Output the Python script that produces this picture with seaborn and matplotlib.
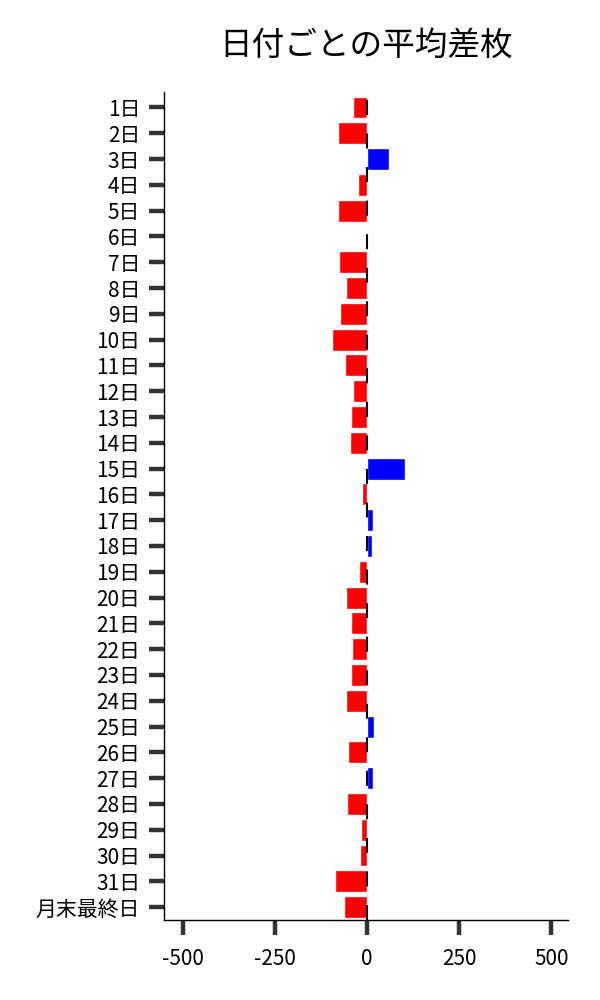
import matplotlib
matplotlib.use("Agg")
import matplotlib.pyplot as plt
import seaborn as sns
import pandas as pd

days = [f"{i}日" for i in range(1, 32)] + ["月末最終日"]
avg_diff = [-39, -79, 59, -24, -79, 0, -76, -57, -73, -95,
            -60, -39, -43, -46, 102, -14, 15, 12, -22, -57,
            -43, -40, -43, -57, 20, -51, 15, -54, -16, -19,
            -87, -62]
title = "日付ごとの平均差枚"
xticks = [-500, -250, 0, 250, 500]

sns.set_style("ticks")
plt.rcParams['font.family'] = ['Noto Sans CJK JP', 'DejaVu Sans']

df = pd.DataFrame({"day": days, "diff": avg_diff})
colors = ["#0000ff" if v > 0 else "#ff0000" for v in avg_diff]

fig = plt.figure(figsize=(6, 10), dpi=100)
ax = fig.add_axes([0.273, 0.08, 0.674, 0.828])
sns.barplot(data=df, x="diff", y="day", hue="day", palette=colors,
            legend=False, orient="h", width=0.85, saturation=1, ax=ax)
ax.axvline(0, color="black", lw=1.5, linestyle=(0, (7.2, 8.9)), zorder=5)

ax.set_xlim(-552, 546)
ax.set_ylim(31.5, -0.6)
ax.set_xticks(xticks)
ax.set_xticklabels([str(t) for t in xticks])
ax.set_xlabel("")
ax.set_ylabel("")
ax.set_title(title, fontsize=23.5, pad=27, color="black")
ax.tick_params(axis="both", length=11, width=3.2, color="#333333",
               labelsize=15, labelcolor="black")
ax.tick_params(axis="x", pad=9)
ax.tick_params(axis="y", pad=6)
for s in ["left", "bottom"]:
    ax.spines[s].set_color("black")
    ax.spines[s].set_linewidth(1.0)
sns.despine(ax=ax)

fig.savefig("out.png", dpi=100)
